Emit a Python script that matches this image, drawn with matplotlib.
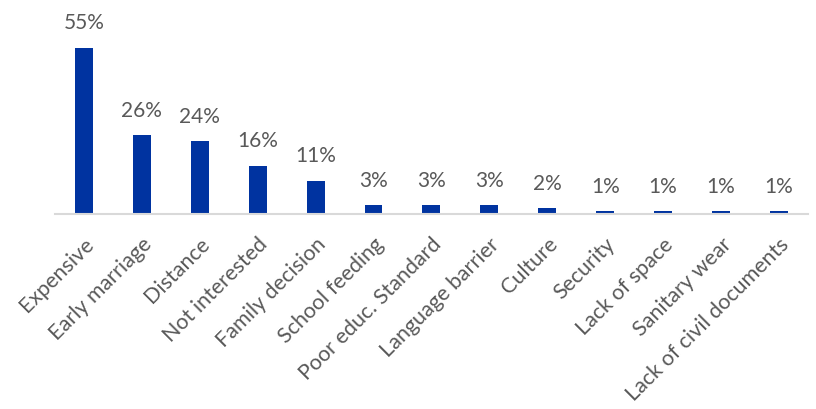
import matplotlib.pyplot as plt

plt.rcParams['font.family'] = ['Lato', 'DejaVu Sans']

# reasons for not attending school, share of respondents (%)
reasons = ['Expensive', 'Early marriage', 'Distance', 'Not interested',
           'Family decision', 'School feeding', 'Poor educ. Standard',
           'Language barrier', 'Culture', 'Security', 'Lack of space',
           'Sanitary wear', 'Lack of civil documents']
shares = [55, 26, 24, 16, 11, 3, 3, 3, 2, 1, 1, 1, 1]

bar_color = '#0033A0'
text_color = '#595959'

fig = plt.figure(figsize=(8.16, 4.10), dpi=100)
ax = fig.add_axes([0.0674, 0.476, 0.9226, 0.442])

x = range(len(reasons))
bars = ax.bar(x, shares, width=0.31, color=bar_color)

for b, v in zip(bars, shares):
    ax.annotate(f'{v}%', (b.get_x() + b.get_width() / 2, v),
                xytext=(0, 11), textcoords='offset points',
                ha='center', va='bottom', fontsize=15, color=text_color)

ax.set_xlim(-0.5, len(reasons) - 0.5)
ax.set_ylim(0, 60)
ax.set_xticks(list(x))
ax.set_xticklabels(reasons, rotation=45, ha='right', rotation_mode='anchor',
                   fontsize=15.5, color=text_color)
ax.tick_params(axis='x', length=0, pad=14)
ax.set_yticks([])

for side in ['top', 'right', 'left']:
    ax.spines[side].set_visible(False)
ax.spines['bottom'].set_color('#D9D9D9')
ax.spines['bottom'].set_linewidth(1.5)

fig.savefig('out.png', dpi=100)
